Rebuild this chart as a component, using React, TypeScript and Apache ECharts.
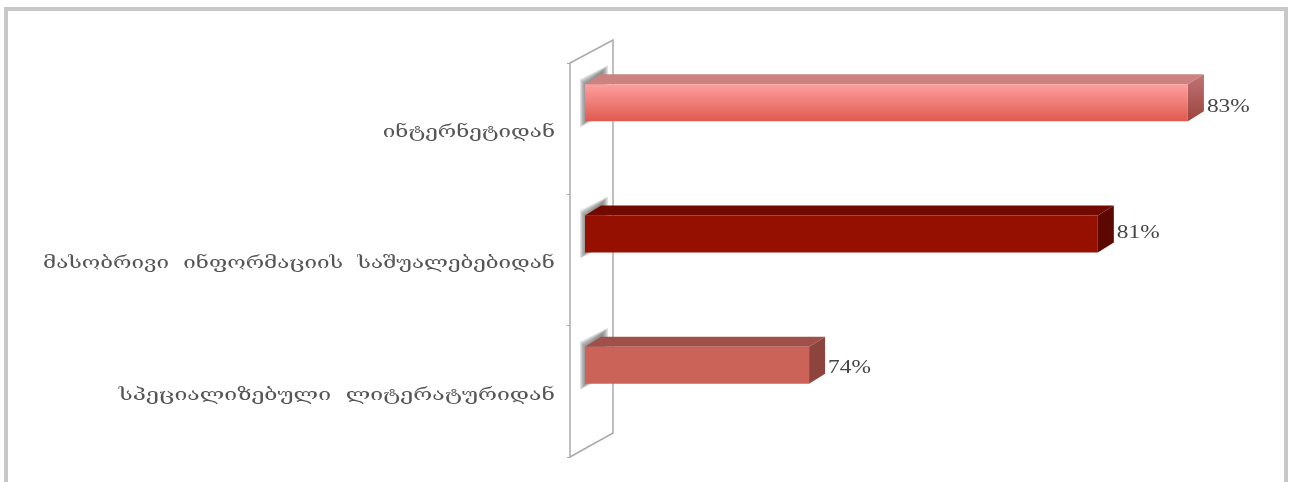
import React, { useEffect, useRef } from "react";
import * as echarts from "echarts";

const categories = [
  "ინტერნეტიდან",
  "მასობრივი  ინფორმაციის  საშუალებებიდან",
  "სპეციალიზებული  ლიტერატურიდან",
];
const values = [83, 80.86, 74];
const valueLabels = ["83%", "81%", "74%"];

const palettes = [
  { front: ["#ff9f9f", "#df5a50"], top: "#cd8282", side: ["#bf7474", "#9c4440"] },
  { front: ["#961000", "#961000"], top: "#700a00", side: ["#5c0800", "#5c0800"] },
  { front: ["#cc6358", "#cc6358"], top: "#9f5048", side: ["#8c443c", "#8c443c"] },
];

const AXIS_MIN = 68.32;
const AXIS_MAX = 84;
const DEPTH_X = 16;
const DEPTH_Y = 10;
const BASE_SHIFT = 15;
const BAR_H = 37;
const CENTER_SHIFT = -26;
const LABEL_SHIFT = [3, -2, 2];
const CATEGORY_SCALE = [1.4, 1.4, 1.44];

const vGrad = (c: string[]) =>
  new echarts.graphic.LinearGradient(0, 0, 0, 1, [
    { offset: 0, color: c[0] },
    { offset: 1, color: c[1] },
  ]);

function renderBar(params: any, api: any) {
  const i = params.dataIndex;
  const pal = palettes[i];
  const end = api.coord([api.value(0), i]);
  const origin = api.coord([AXIS_MIN, i]);
  const x0 = origin[0] + BASE_SHIFT;
  const x1 = end[0];
  const cy = end[1] + CENTER_SHIFT;
  const yt = cy - BAR_H / 2;
  const yb = cy + BAR_H / 2;
  const poly = (points: number[][], fill: any) => ({
    type: "polygon",
    shape: { points },
    style: { fill },
    silent: true,
  });
  const shadow = [5, 4, 3, 2, 1, 0].map((g) =>
    poly(
      [
        [x0 - g, yt - g],
        [x0 + 18 + g, yt - 14 - g],
        [x0 + 18 + g, yt + 24 + g],
        [x0 - g, yb + 1 + g],
      ],
      "rgba(110,110,110,0.2)"
    )
  );
  return {
    type: "group",
    children: [
      ...shadow,
      poly(
        [
          [x0, yt],
          [x0 + DEPTH_X, yt - DEPTH_Y],
          [x1 + DEPTH_X, yt - DEPTH_Y],
          [x1, yt],
        ],
        pal.top
      ),
      poly(
        [
          [x1, yt],
          [x1 + DEPTH_X, yt - DEPTH_Y],
          [x1 + DEPTH_X, yb - DEPTH_Y],
          [x1, yb],
        ],
        vGrad(pal.side)
      ),
      {
        type: "rect",
        shape: { x: x0, y: yt, width: x1 - x0, height: BAR_H },
        style: { fill: vGrad(pal.front) },
        silent: true,
      },
      {
        type: "text",
        x: x1 + DEPTH_X + 3,
        y: cy + LABEL_SHIFT[i],
        scaleX: 1.3,
        style: {
          text: valueLabels[i],
          fill: "#444444",
          font: '18px "Liberation Serif", serif',
          align: "left",
          verticalAlign: "middle",
        },
        silent: true,
      },
      {
        type: "text",
        x: origin[0] - 15,
        y: end[1] + 3,
        scaleX: CATEGORY_SCALE[i],
        style: {
          text: categories[i],
          fill: "#555555",
          font: '16px "DejaVu Serif", serif',
          align: "right",
          verticalAlign: "middle",
        },
        silent: true,
      },
    ],
  };
}

export default function App() {
  const ref = useRef<HTMLDivElement>(null);
  useEffect(() => {
    const chart = echarts.init(ref.current!, undefined, { renderer: "svg" });
    chart.setOption({
      animation: false,
      backgroundColor: "#ffffff",
      grid: { left: 570, top: 63, width: 660, height: 394 },
      xAxis: { type: "value", min: AXIS_MIN, max: AXIS_MAX, show: false },
      yAxis: {
        type: "category",
        data: categories,
        inverse: true,
        axisLine: { show: true, lineStyle: { color: "#aaaaaa", width: 1.5 } },
        axisTick: { show: true, length: 3, lineStyle: { color: "#aaaaaa" } },
        axisLabel: { show: false },
      },
      graphic: [
        {
          type: "rect",
          z: -10,
          shape: { x: 6, y: 9, width: 1280, height: 490 },
          style: { fill: "#ffffff", stroke: "#c8c8c8", lineWidth: 4 },
          silent: true,
        },
        {
          type: "polyline",
          z: -5,
          shape: {
            points: [
              [570, 63],
              [613, 40],
              [613, 433],
              [570, 457],
            ],
          },
          style: { fill: "none", stroke: "#aaaaaa", lineWidth: 1.5 },
          silent: true,
        },
      ],
      series: [
        {
          type: "custom",
          renderItem: renderBar,
          encode: { x: 0, y: 1 },
          data: values.map((v, i) => [v, i]),
          z: 5,
          clip: false,
        },
      ],
    });
    return () => chart.dispose();
  }, []);
  return (
    <div
      ref={ref}
      style={{
        position: "fixed",
        left: 0,
        top: 0,
        width: 1294,
        height: 482,
        filter: "blur(0.7px)",
      }}
    />
  );
}
